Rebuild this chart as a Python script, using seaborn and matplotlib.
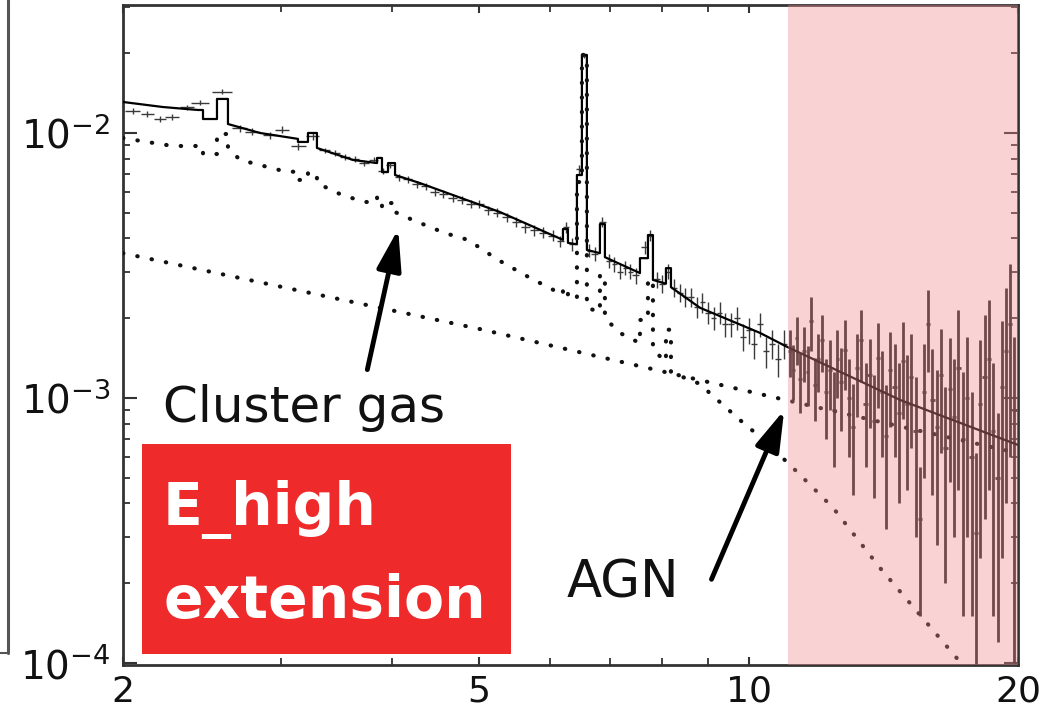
import numpy as np
import matplotlib
matplotlib.use("Agg")
import matplotlib.pyplot as plt
import seaborn as sns
from matplotlib.patches import Rectangle
from matplotlib.lines import Line2D
from matplotlib.ticker import FixedLocator, FixedFormatter, NullFormatter, LogLocator

# ---------------- data (keV, counts s^-1 keV^-1) ----------------
model_energy = [2.000, 2.216, 2.426, 2.457, 2.457, 2.547, 2.547, 2.620, 2.620, 2.845,
                3.137, 3.137, 3.219, 3.219, 3.294, 3.294, 3.614, 3.845, 3.845, 3.894,
                3.894, 3.955, 3.955, 4.027, 4.027, 4.294, 4.675, 5.276, 6.203, 6.203,
                6.283, 6.283, 6.430, 6.430, 6.513, 6.513, 6.597, 6.597, 6.822, 6.822,
                6.910, 6.910, 7.562, 7.562, 7.719, 7.719, 7.819, 7.819, 8.085, 8.085,
                8.190, 8.190, 8.825, 10.30, 11.04, 14.77, 20.00]
model_flux = [0.01309, 0.01253, 0.01221, 0.01221, 0.01129, 0.01129, 0.01344, 0.01344, 0.01081, 0.01000,
              0.00950, 0.00925, 0.00925, 0.01000, 0.01000, 0.00878, 0.00791, 0.00770, 0.00805, 0.00805,
              0.00712, 0.00712, 0.00770, 0.00770, 0.00694, 0.00647, 0.00583, 0.00503, 0.00395, 0.00434,
              0.00434, 0.00385, 0.00380, 0.00694, 0.00694, 0.01970, 0.01970, 0.00362, 0.00352, 0.00453,
              0.00453, 0.00340, 0.00296, 0.00337, 0.00337, 0.00412, 0.00412, 0.00279, 0.00270, 0.00309,
              0.00309, 0.00262, 0.00219, 0.00176, 0.00156, 0.000983, 0.000665]

gas_energy = [2.000, 2.127, 2.274, 2.457, 2.457, 2.547, 2.547, 2.620, 2.620, 2.703,
              2.845, 3.018, 3.137, 3.137, 3.219, 3.219, 3.294, 3.294, 3.514, 3.728,
              3.845, 3.845, 3.894, 3.894, 3.955, 3.955, 4.027, 4.027, 4.218, 4.579,
              4.858, 5.249, 5.699, 6.203, 6.203, 6.283, 6.283, 6.430, 6.430, 6.513,
              6.513, 6.597, 6.597, 6.822, 6.822, 6.910, 6.910, 7.182, 7.562, 7.562,
              7.719, 7.719, 7.819, 7.819, 8.085, 8.085, 8.190, 8.190, 8.825, 9.06,
              9.78, 10.30, 11.04, 11.33, 12.43, 14.03, 17.10, 19.10]
gas_flux = [0.00957, 0.00925, 0.00893, 0.00893, 0.00833, 0.00833, 0.00991, 0.00991, 0.00878, 0.00791,
            0.00757, 0.00719, 0.00712, 0.00665, 0.00665, 0.00706, 0.00706, 0.00647, 0.00583, 0.00549,
            0.00549, 0.00573, 0.00573, 0.00525, 0.00525, 0.00544, 0.00544, 0.00503, 0.00469, 0.00419,
            0.00395, 0.00332, 0.00284, 0.00245, 0.00260, 0.00260, 0.00238, 0.00238, 0.00653, 0.00653,
            0.01970, 0.01970, 0.00219, 0.00211, 0.00291, 0.00291, 0.00200, 0.00176, 0.00161, 0.00197,
            0.00197, 0.00279, 0.00279, 0.00152, 0.00137, 0.00181, 0.00181, 0.00125, 0.00113, 0.00104,
            0.000826, 0.000713, 0.000573, 0.000526, 0.000385, 0.000228, 0.000104, 0.0000609]

agn_energy = [2.0, 5.01, 10.9, 14.2, 20.0]
agn_flux = [0.00352, 0.00182, 0.00099, 0.000805, 0.00062]

obs_energy = [2.05, 2.13, 2.20, 2.27, 2.36, 2.44, 2.58, 2.70, 2.79, 2.92,
              3.01, 3.14, 3.26, 3.36, 3.45, 3.54, 3.63, 3.72, 3.81, 3.90,
              3.98, 4.07, 4.16, 4.26, 4.36, 4.46, 4.56, 4.67, 4.78, 4.89,
              5.00, 5.12, 5.24, 5.37, 5.50, 5.63, 5.76, 5.90, 6.04, 6.16,
              6.25, 6.35, 6.46, 6.55, 6.64, 6.73, 6.86, 6.98, 7.08, 7.18,
              7.28, 7.38, 7.48, 7.66, 7.76, 7.90, 8.00, 8.13, 8.26, 8.38,
              8.50, 8.62, 8.75, 8.88, 9.01, 9.14, 9.28, 9.42, 9.56, 9.70,
              9.85, 10.00, 10.15, 10.30, 10.46, 10.62, 10.78, 10.95]
obs_flux = [0.0121, 0.0118, 0.0113, 0.0115, 0.0125, 0.0130, 0.0143, 0.0104, 0.0101, 0.0098,
            0.0103, 0.0089, 0.0097, 0.0086, 0.0084, 0.0081, 0.0080, 0.0077, 0.0079, 0.0072,
            0.0076, 0.0068, 0.0067, 0.0064, 0.0063, 0.0060, 0.0059, 0.0057, 0.0056, 0.0054,
            0.0054, 0.0051, 0.0050, 0.0048, 0.0046, 0.0044, 0.0043, 0.0042, 0.0041, 0.0039,
            0.0044, 0.0038, 0.0073, 0.0196, 0.0036, 0.0035, 0.0046, 0.0033, 0.0032, 0.0030,
            0.0031, 0.0030, 0.0029, 0.0037, 0.0041, 0.0028, 0.0027, 0.0030, 0.0026, 0.0025,
            0.0024, 0.0024, 0.0022, 0.0023, 0.0021, 0.0020, 0.0021, 0.0019, 0.0019, 0.0020,
            0.0017, 0.0018, 0.0016, 0.0019, 0.0015, 0.0016, 0.0014, 0.0016]
obs_err = [0.0003, 0.0003, 0.0003, 0.0003, 0.0003, 0.0003, 0.0003, 0.0003, 0.0003, 0.0003,
           0.0003, 0.0003, 0.0003, 0.0002, 0.0002, 0.0002, 0.0002, 0.0002, 0.0002, 0.0002,
           0.0002, 0.0002, 0.0002, 0.0002, 0.0002, 0.0002, 0.0002, 0.0002, 0.0002, 0.0002,
           0.0002, 0.0002, 0.0002, 0.0002, 0.0002, 0.0002, 0.0002, 0.0002, 0.0002, 0.0002,
           0.0002, 0.0002, 0.0003, 0.0004, 0.0002, 0.0002, 0.0002, 0.0002, 0.0002, 0.0002,
           0.0002, 0.0002, 0.0002, 0.0002, 0.0002, 0.0002, 0.0002, 0.0002, 0.0002, 0.0002,
           0.0002, 0.0002, 0.0002, 0.0002, 0.0002, 0.0002, 0.0002, 0.0002, 0.0002, 0.0002,
           0.0002, 0.0002, 0.0002, 0.0002, 0.0002, 0.0002, 0.0002, 0.0002]

high_energy = [11.12, 11.22, 11.32, 11.42, 11.53, 11.64, 11.75, 11.86, 11.97, 12.09,
               12.21, 12.33, 12.45, 12.57, 12.70, 12.83, 12.96, 13.09, 13.23, 13.37,
               13.51, 13.65, 13.80, 13.95, 14.10, 14.25, 14.40, 14.56, 14.72, 14.88,
               15.04, 15.20, 15.37, 15.54, 15.71, 15.88, 16.05, 16.23, 16.41, 16.59,
               16.78, 16.97, 17.16, 17.35, 17.55, 17.75, 17.95, 18.15, 18.35, 18.56,
               18.77, 18.98, 19.19, 19.40, 19.61, 19.82]
high_flux = [0.00150, 0.00128, 0.00168, 0.00118, 0.00150, 0.00125, 0.00195, 0.00112, 0.00140, 0.00165,
             0.00105, 0.00128, 0.00090, 0.00140, 0.00115, 0.00152, 0.00100, 0.00078, 0.00130, 0.00165,
             0.00095, 0.00122, 0.00082, 0.00142, 0.00105, 0.00072, 0.00128, 0.00110, 0.00088, 0.00138,
             0.00095, 0.00120, 0.00075, 0.00035, 0.00105, 0.00190, 0.00098, 0.00078, 0.00122, 0.00065,
             0.00108, 0.00085, 0.00130, 0.00070, 0.00100, 0.00060, 0.00031, 0.00095, 0.00120, 0.00140,
             0.00075, 0.00050, 0.00110, 0.00150, 0.00190, 0.00090]
high_err = [0.00030, 0.00030, 0.00035, 0.00030, 0.00035, 0.00032, 0.00045, 0.00030, 0.00035, 0.00040,
            0.00035, 0.00038, 0.00035, 0.00040, 0.00040, 0.00045, 0.00040, 0.00035, 0.00045, 0.00050,
            0.00040, 0.00045, 0.00040, 0.00050, 0.00045, 0.00040, 0.00050, 0.00050, 0.00048, 0.00055,
            0.00050, 0.00055, 0.00045, 0.00020, 0.00055, 0.00065, 0.00055, 0.00050, 0.00060, 0.00045,
            0.00060, 0.00055, 0.00085, 0.00055, 0.00070, 0.00045, 0.00031, 0.00070, 0.00085, 0.00095,
            0.00060, 0.00038, 0.00085, 0.00110, 0.00130, 0.00080]

x_ticks = [2, 5, 10, 20]
x_ticklabels = ["2", "5", "10", "20"]
x_minor = [3, 4, 6, 7, 8, 9]
band_start, band_end = 11.07, 20.0

# ---------------- figure ----------------
sns.set_style("ticks")
plt.rcParams["font.family"] = ["DejaVu Sans"]

W, H = 1060, 718
fig = plt.figure(figsize=(W / 100, H / 100), dpi=100)
ax = fig.add_axes([123 / W, 1 - 665 / H, (1018 - 123) / W, (665 - 5) / H])
ax.set_xscale("log")
ax.set_yscale("log")

# data points
e_lo = np.asarray(obs_energy)
xe = np.gradient(e_lo) / 2
ax.errorbar(obs_energy, obs_flux, yerr=obs_err, xerr=xe, fmt="none",
            ecolor="#3a3a3a", elinewidth=1.0, capsize=0, zorder=2)
e_hi = np.asarray(high_energy)
xe2 = np.gradient(e_hi) / 2
ax.errorbar(high_energy, high_flux, yerr=high_err, xerr=xe2, fmt="none",
            ecolor="#222222", elinewidth=2.0, capsize=0, zorder=2)

# model components
dot_style = (0, (0.1, 3.4))
sns.lineplot(x=model_energy, y=model_flux, ax=ax, sort=False, estimator=None,
             color="black", lw=1.6, zorder=3)
sns.lineplot(x=gas_energy, y=gas_flux, ax=ax, sort=False, estimator=None,
             color="#111111", lw=3.0, linestyle=dot_style,
             dash_capstyle="round", zorder=3)
sns.lineplot(x=agn_energy, y=agn_flux, ax=ax, sort=False, estimator=None,
             color="#111111", lw=3.0, linestyle=dot_style,
             dash_capstyle="round", zorder=3)

# highlighted band
ax.axvspan(band_start, band_end, color="#F08C8C", alpha=0.38, lw=0, zorder=4)

ax.set_xlim(2, 20)
ax.set_ylim(9.83e-5, 0.0304)
ax.set_xlabel("")
ax.set_ylabel("")

ax.xaxis.set_major_locator(FixedLocator(x_ticks))
ax.xaxis.set_major_formatter(FixedFormatter(x_ticklabels))
ax.xaxis.set_minor_locator(FixedLocator(x_minor))
ax.xaxis.set_minor_formatter(NullFormatter())
ax.yaxis.set_major_locator(FixedLocator([1e-4, 1e-3, 1e-2]))
ax.yaxis.set_major_formatter(FixedFormatter([r"$\mathregular{10^{-4}}$",
                                             r"$\mathregular{10^{-3}}$",
                                             r"$\mathregular{10^{-2}}$"]))
ax.yaxis.set_minor_locator(LogLocator(base=10, subs=np.arange(2, 10)))
ax.yaxis.set_minor_formatter(NullFormatter())

ax.tick_params(which="both", direction="in", top=True, right=True, colors="#333333")
ax.tick_params(axis="x", which="major", length=6, width=1.5, labelsize=26, pad=7,
               labelcolor="#111111")
ax.tick_params(axis="x", which="minor", length=5, width=1.3)
ax.tick_params(axis="y", which="major", length=10, width=1.5, labelsize=28, pad=9,
               labelcolor="#111111")
ax.tick_params(axis="y", which="minor", length=5, width=1.3)
for s in ax.spines.values():
    s.set_linewidth(2.0)
    s.set_color("#333333")

# annotations
ax.text(2.216, 0.000811, "Cluster gas", fontsize=36, color="#111111",
        ha="left", va="baseline", zorder=6)
ax.text(6.26, 0.000176, "AGN", fontsize=37, color="#111111",
        ha="left", va="baseline", zorder=6)
arrow_style = "-|>,head_length=2.5,head_width=0.75"
ax.annotate("", xy=(4.06, 0.00434), xytext=(3.75, 0.00128),
            arrowprops=dict(arrowstyle=arrow_style, lw=3.5, color="black",
                            shrinkA=0, shrinkB=0, mutation_scale=10), zorder=6)
ax.annotate("", xy=(10.96, 0.000901), xytext=(9.09, 0.000207),
            arrowprops=dict(arrowstyle=arrow_style, lw=3.5, color="black",
                            shrinkA=0, shrinkB=0, mutation_scale=10), zorder=6)

# red label box
fig.add_artist(Rectangle((142 / W, 1 - 654 / H), (511 - 142) / W, (654 - 444) / H,
                         transform=fig.transFigure, facecolor="#EE2A2B",
                         edgecolor="none", zorder=10))
fig.text(163 / W, 1 - 525 / H, "E_high", color="white", fontsize=42,
         fontweight="bold", family="DejaVu Sans", va="baseline", zorder=11)
fig.text(163 / W, 1 - 618 / H, "extension", color="white", fontsize=42,
         fontweight="bold", family="DejaVu Sans", va="baseline", zorder=11)

# edge of neighbouring panel
fig.add_artist(Line2D([8 / W, 8 / W], [1 - 653 / H, 1.0], transform=fig.transFigure,
                      color="#555555", lw=2.2))
fig.add_artist(Line2D([0, 8 / W], [1 - 653 / H, 1 - 653 / H], transform=fig.transFigure,
                      color="#555555", lw=1.5))

fig.savefig("out.png", dpi=100)
